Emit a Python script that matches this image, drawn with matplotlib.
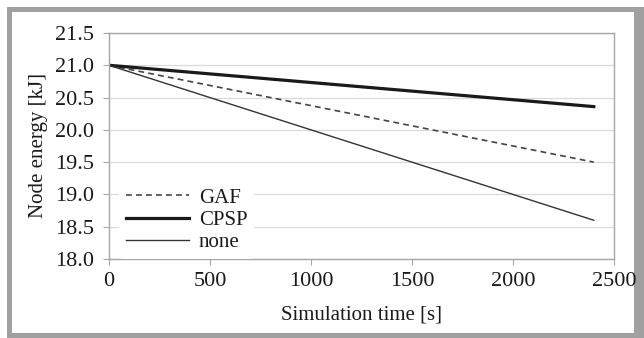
import matplotlib
matplotlib.use("Agg")
import matplotlib.pyplot as plt
from matplotlib.patches import Rectangle

plt.rcParams['font.family'] = ['Liberation Serif', 'DejaVu Serif']

time_s = [0, 2400]
gaf = [21.0, 19.5]
cpsp = [21.0, 20.36]
none = [21.0, 18.6]
series_labels = ["GAF", "CPSP", "none"]
x_ticks = [0, 500, 1000, 1500, 2000, 2500]
y_ticks = [18.0, 18.5, 19.0, 19.5, 20.0, 20.5, 21.0, 21.5]

W, H = 644, 338
fig = plt.figure(figsize=(W / 100, H / 100), dpi=100)
fig.patch.set_facecolor('white')

# gray frame
def px_rect(x0, y0, x1, y1, color):
    fig.patches.append(Rectangle((x0 / W, 1 - y1 / H), (x1 - x0) / W, (y1 - y0) / H,
                                 transform=fig.transFigure, facecolor=color,
                                 edgecolor='none', zorder=-10))
px_rect(7, 7, 644, 338, '#a0a0a0')
px_rect(12, 12, 634, 333, 'white')

ax = fig.add_axes([109 / W, 1 - 259 / H, (614 - 109) / W, (259 - 33) / H])
ax.set_facecolor('none')

ax.plot(time_s, gaf, linestyle=(0, (3.5, 2.5)), color='#444444', linewidth=1.2, label=series_labels[0])
ax.plot(time_s, cpsp, color='#1a1a1a', linewidth=2.3, label=series_labels[1])
ax.plot(time_s, none, color='#333333', linewidth=1.0, label=series_labels[2])

ax.set_xlim(0, 2500)
ax.set_ylim(18.0, 21.5)
ax.set_xticks(x_ticks)
ax.set_yticks(y_ticks)
ax.set_yticklabels([f"{v:.1f}" for v in y_ticks])
ax.grid(axis='y', color='#d9d9d9', linewidth=0.9)
ax.set_axisbelow(True)
for s in ax.spines.values():
    s.set_color('#a6a6a6')
    s.set_linewidth(1.0)
ax.tick_params(axis='both', colors='#a6a6a6', labelcolor='#1a1a1a', labelsize=16,
               length=4, width=0.8, direction='out')
ax.tick_params(axis='x', pad=5)
ax.tick_params(axis='y', pad=7)

ax.set_xlabel("Simulation time [s]", fontsize=15, color='#1a1a1a', labelpad=11)
ax.set_ylabel("Node energy [kJ]", fontsize=15, color='#1a1a1a', labelpad=5)

leg = ax.legend(loc='lower left', bbox_to_anchor=(0.02, 0.0), frameon=True, fontsize=15,
                handlelength=3.0, handletextpad=0.48, labelspacing=0.12, borderaxespad=0.0,
                borderpad=0.34)
leg.get_frame().set_edgecolor('none')
leg.get_frame().set_facecolor('white')
leg.get_frame().set_alpha(1.0)
for t in leg.get_texts():
    t.set_color('#1a1a1a')

fig.savefig("out.png", dpi=100)
